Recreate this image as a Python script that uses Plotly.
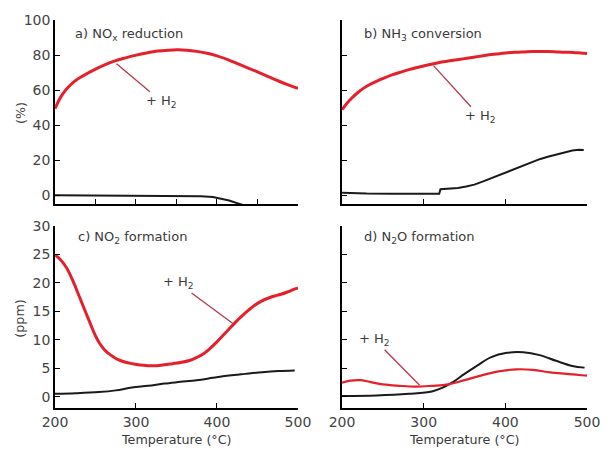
import plotly.graph_objects as go

# ---------------- data ----------------
# a) NOx reduction (%)
a_red_T = [200, 207, 214, 224, 234, 250, 262, 274, 287, 299, 313, 327, 340, 351, 363, 375, 388, 401, 414, 427, 440, 452, 464, 476, 488, 500]
a_red_v = [49.5, 56, 60.5, 65, 68, 72, 74.6, 76.7, 78.4, 79.8, 81.2, 82.3, 82.8, 83, 82.8, 82.1, 81, 79.4, 77.3, 74.8, 72.3, 70, 67.6, 65.2, 63, 61]
a_blk_T = [200, 250, 300, 350, 380, 395, 405, 415, 425, 432]
a_blk_v = [0, -0.1, 0, -0.2, -0.5, -1.0, -1.8, -3.0, -4.5, -5.5]

# b) NH3 conversion (%)
b_red_T = [200, 206, 212, 219, 226, 234, 242, 252, 262, 272, 282, 292, 302, 312, 322, 332, 343, 353, 363, 373, 383, 393, 403, 413, 423, 433, 443, 453, 463, 473, 483, 492, 500]
b_red_v = [48.8, 52.5, 55.5, 58.5, 61, 63.2, 65, 67, 68.8, 70.3, 71.7, 72.9, 74, 75, 76, 76.8, 77.5, 78.2, 78.9, 79.6, 80.3, 80.8, 81.3, 81.6, 81.8, 82, 82, 82, 81.8, 81.6, 81.5, 81.2, 80.9]
b_blk_T = [200, 210, 230, 260, 290, 319, 320.5, 330, 342, 352, 362, 372, 382, 392, 402, 412, 422, 432, 442, 452, 462, 472, 482, 490, 496]
b_blk_v = [1.5, 1.2, 1.0, 0.9, 0.9, 0.9, 3.5, 3.8, 4.2, 5.0, 6.1, 7.8, 9.6, 11.5, 13.4, 15.3, 17.2, 19.0, 20.6, 22.0, 23.3, 24.6, 25.6, 26.0, 25.8]

# c) NO2 formation (ppm)
c_red_T = [200, 206, 214, 222, 230, 238, 246, 250, 254, 258, 262, 266, 272, 278, 286, 295, 305, 315, 325, 335, 345, 355, 367, 375, 383, 391, 399, 407, 415, 423, 431, 439, 447, 455, 463, 471, 479, 487, 494, 500]
c_red_v = [24.9, 24.2, 22.7, 20.4, 17.6, 14.8, 12.0, 10.7, 9.6, 8.8, 8.1, 7.6, 7.0, 6.5, 6.1, 5.8, 5.55, 5.45, 5.45, 5.6, 5.8, 6.0, 6.4, 6.9, 7.5, 8.4, 9.5, 10.7, 11.9, 13.1, 14.2, 15.2, 16.1, 16.8, 17.3, 17.7, 18.0, 18.4, 18.8, 19.1]
c_blk_T = [200, 225, 254, 275, 295, 315, 335, 355, 375, 395, 415, 435, 456, 476, 496]
c_blk_v = [0.5, 0.6, 0.8, 1.1, 1.6, 1.9, 2.3, 2.6, 2.9, 3.3, 3.7, 4.0, 4.3, 4.5, 4.6]

# d) N2O formation (ppm)
d_red_T = [200, 210, 222, 234, 250, 270, 290, 310, 330, 350, 370, 390, 414, 434, 455, 475, 490, 500]
d_red_v = [2.45, 2.8, 2.9, 2.6, 2.15, 1.9, 1.75, 1.9, 2.15, 2.9, 3.7, 4.4, 4.8, 4.7, 4.25, 4.0, 3.8, 3.7]
d_blk_T = [200, 242, 282, 310, 322, 334, 350, 366, 382, 402, 422, 442, 462, 482, 497]
d_blk_v = [0.1, 0.2, 0.5, 0.9, 1.5, 2.4, 4.0, 5.5, 6.9, 7.7, 7.8, 7.3, 6.3, 5.4, 5.1]

panel_titles = ["a) NO<sub>x</sub> reduction", "b) NH<sub>3</sub> conversion",
                "c) NO<sub>2</sub> formation", "d) N<sub>2</sub>O formation"]
x_ticks_100 = [200, 300, 400, 500]
x_ticks_50 = [200, 250, 300, 350, 400, 450, 500]
y_ticks_pct = [0, 20, 40, 60, 80, 100]
y_ticks_ppm = [0, 5, 10, 15, 20, 25, 30]

RED = "#e3202b"
BLACK = "#1a1a1a"
LEADER = "#b23a4c"
TXT = "#3a3a3a"
FONT = "DejaVu Sans"

fig = go.Figure()

series = [
    (a_blk_T, a_blk_v, "x", "y", BLACK, 2.0, "linear"),
    (a_red_T, a_red_v, "x", "y", RED, 3.0, "spline"),
    (b_blk_T, b_blk_v, "x2", "y2", BLACK, 2.0, "linear"),
    (b_red_T, b_red_v, "x2", "y2", RED, 3.0, "spline"),
    (c_blk_T, c_blk_v, "x3", "y3", BLACK, 2.0, "spline"),
    (c_red_T, c_red_v, "x3", "y3", RED, 3.0, "spline"),
    (d_blk_T, d_blk_v, "x4", "y4", BLACK, 2.0, "spline"),
    (d_red_T, d_red_v, "x4", "y4", RED, 2.2, "spline"),
]
for T, v, xa, ya, col, w, shape in series:
    fig.add_trace(go.Scatter(x=T, y=v, xaxis=xa, yaxis=ya, mode="lines",
                             line=dict(color=col, width=w, shape=shape),
                             showlegend=False, hoverinfo="skip"))

xl = [0, 0.4567]
xr = [0.5396, 1]
yt = [0.5256, 1]
yb = [0, 0.469]

axis_common = dict(showline=True, linecolor="black", linewidth=1.5, ticks="inside",
                   ticklen=5, tickwidth=1.2, tickcolor="black", showgrid=False,
                   zeroline=False, tickfont=dict(family=FONT, size=14, color="#444444"))

fig.update_layout(
    width=612, height=450,
    margin=dict(l=55, r=14, t=18, b=42),
    plot_bgcolor="white", paper_bgcolor="white",
    font=dict(family=FONT, size=12, color=TXT),
    xaxis=dict(domain=xl, anchor="y", range=[200, 500], tickvals=x_ticks_50, showticklabels=False, **axis_common),
    yaxis=dict(domain=yt, anchor="x", range=[-5, 100], tickvals=y_ticks_pct, **axis_common),
    xaxis2=dict(domain=xr, anchor="y2", range=[200, 500], tickvals=x_ticks_100, showticklabels=False, **axis_common),
    yaxis2=dict(domain=yt, anchor="x2", range=[-5, 100], tickvals=y_ticks_pct, showticklabels=False, **axis_common),
    xaxis3=dict(domain=xl, anchor="y3", range=[200, 500], tickvals=x_ticks_100, **axis_common),
    yaxis3=dict(domain=yb, anchor="x3", range=[-2, 30], tickvals=y_ticks_ppm, **axis_common),
    xaxis4=dict(domain=xr, anchor="y4", range=[200, 500], tickvals=x_ticks_100, **axis_common),
    yaxis4=dict(domain=yb, anchor="x4", range=[-2, 30], tickvals=y_ticks_ppm, showticklabels=False, **axis_common),
)

# panel titles
title_pos = [("x", "y", 222, 92), ("x2", "y2", 224, 91.5), ("x3", "y3", 226, 27.9), ("x4", "y4", 224, 27.9)]
for (xa, ya, tx, ty), t in zip(title_pos, panel_titles):
    fig.add_annotation(x=tx, y=ty, xref=xa, yref=ya, text=t, showarrow=False,
                       xanchor="left", yanchor="middle", font=dict(family=FONT, size=13, color=TXT))

# "+ H2" leader labels
leaders = [("x", "y", 276, 75, 332, 53.4), ("x2", "y2", 312, 74, 369, 44.8),
           ("x3", "y3", 420, 12.8, 352, 20), ("x4", "y4", 295, 2.0, 240, 10)]
for xa, ya, px, py, tx, ty in leaders:
    fig.add_annotation(x=px, y=py, xref=xa, yref=ya, ax=tx, ay=ty, axref=xa, ayref=ya,
                       text="+ H<sub>2</sub>", showarrow=True, arrowhead=0, arrowwidth=1.3,
                       arrowcolor=LEADER, font=dict(family=FONT, size=13, color=TXT))

# axis titles
fig.add_annotation(x=-0.066, y=0.76, xref="paper", yref="paper", text="(%)", textangle=-90,
                   xanchor="center", yanchor="middle",
                   showarrow=False, font=dict(family=FONT, size=12.7, color=TXT))
fig.add_annotation(x=-0.066, y=0.23, xref="paper", yref="paper", text="(ppm)", textangle=-90,
                   xanchor="center", yanchor="middle",
                   showarrow=False, font=dict(family=FONT, size=12.7, color=TXT))
for xc in [(xl[0] + xl[1]) / 2, (xr[0] + xr[1]) / 2]:
    fig.add_annotation(x=xc, y=-0.082, xref="paper", yref="paper", text="Temperature (°C)",
                       xanchor="center", yanchor="middle",
                       showarrow=False, font=dict(family=FONT, size=12.7, color=TXT))

fig.write_html("out.html", config={"displayModeBar": False},
               post_script="document.body.style.margin='0';document.body.style.overflow='hidden';")
